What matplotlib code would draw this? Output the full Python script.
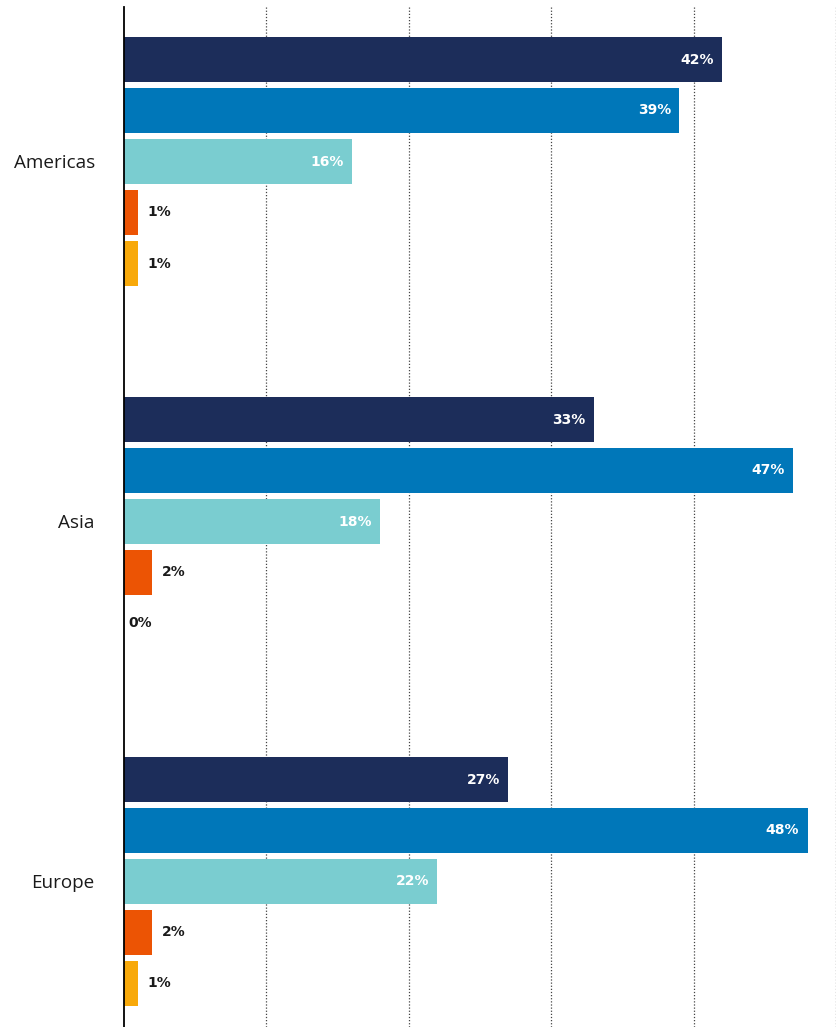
import numpy as np
import matplotlib
matplotlib.use("Agg")
import matplotlib.pyplot as plt

regions = ["Americas", "Asia", "Europe"]
# five answer series per region, in percent (top to bottom within each group)
americas = [42, 39, 16, 1, 1]
asia = [33, 47, 18, 2, 0]
europe = [27, 48, 22, 2, 1]
values = [americas, asia, europe]

colors = ["#1c2d5a", "#0077b9", "#7acdd0", "#ec5404", "#f8a90a"]

bar_pitch = 51 / 360.0
bar_h = 45 / 360.0

fig = plt.figure(figsize=(8.4, 10.27), dpi=100)
ax = fig.add_axes([124 / 840, 0, 712 / 840, 1 - 7 / 1027])

for g, vals in enumerate(values):
    for i, v in enumerate(vals):
        y = g + (i - 2) * bar_pitch
        if v > 0:
            ax.barh(y, v, height=bar_h, color=colors[i], zorder=3)
        if v > 5:
            ax.annotate("%d%%" % v, (v, y), xytext=(-6, 0), textcoords="offset points",
                        ha="right", va="center", color="white", fontsize=10,
                        fontweight="bold", family="DejaVu Sans", zorder=4)
        else:
            ax.annotate("%d%%" % v, (v, y), xytext=(6.5 if v > 0 else 3, 0),
                        textcoords="offset points", ha="left", va="center",
                        color="#1a1a1a", fontsize=10, fontweight="bold",
                        family="DejaVu Sans", zorder=4)

ax.set_xlim(0, 50)
ax.set_ylim(2 + 145.5 / 360, -154.5 / 360)
ax.set_yticks(range(len(regions)))
ax.set_yticklabels(regions, family="Open Sans", fontsize=13.6, color="#1a1a1a")
ax.tick_params(axis="y", length=0, pad=21)
ax.set_xticks([10, 20, 30, 40, 50])
ax.tick_params(axis="x", length=0, labelbottom=False)
ax.grid(True, axis="x", linestyle=(0, (1, 1.5)), color="#444444", linewidth=0.9, zorder=1)
ax.grid(False, axis="y")
for s in ["top", "right", "bottom"]:
    ax.spines[s].set_visible(False)
ax.spines["left"].set_color("black")
ax.spines["left"].set_linewidth(1.3)
ax.spines["left"].set_zorder(5)

plt.savefig("out.png", dpi=100)
